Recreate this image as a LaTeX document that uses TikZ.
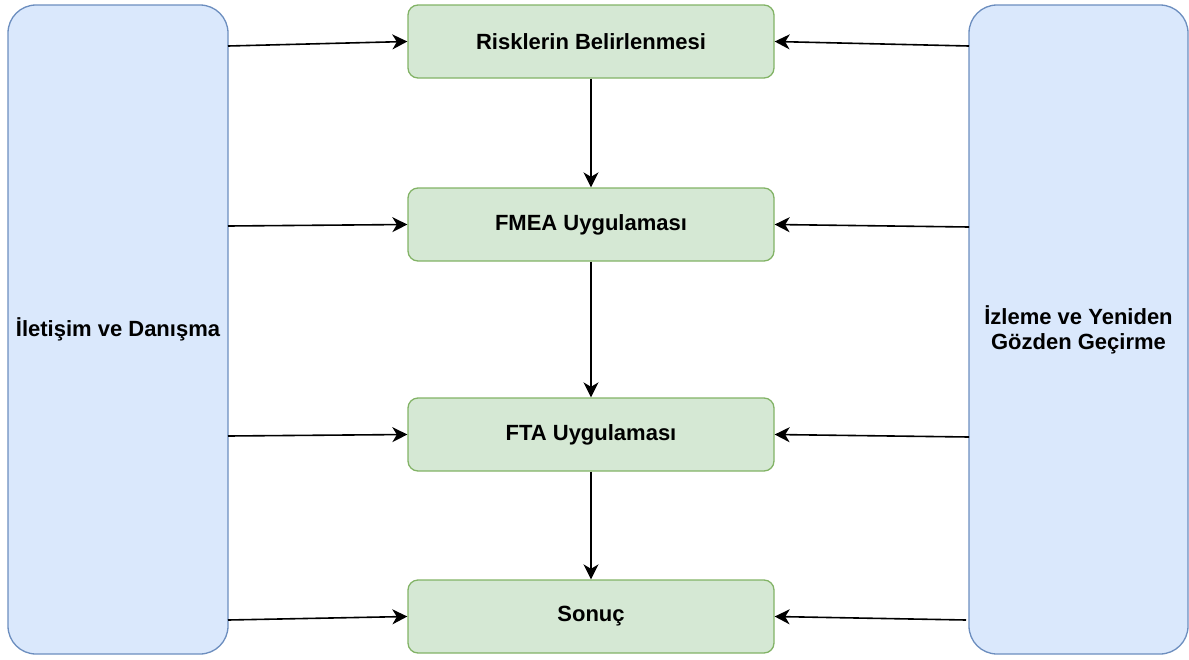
\documentclass[tikz,border=0pt]{standalone}
\usepackage{fontspec}
\setmainfont{Liberation Sans}
\usetikzlibrary{arrows.meta}
\definecolor{bluefill}{HTML}{DAE8FC}
\definecolor{blueline}{HTML}{6C8EBF}
\definecolor{greenfill}{HTML}{D5E8D4}
\definecolor{greenline}{HTML}{82B366}
\tikzset{
  sidebox/.style={draw=blueline, fill=bluefill, line width=1.3pt, rounded corners=28pt,
    minimum width=220pt, minimum height=649pt, inner sep=0pt, align=center,
    font=\fontsize{22}{25}\selectfont\bfseries},
  stepbox/.style={draw=greenline, fill=greenfill, line width=1.3pt, rounded corners=10pt,
    minimum width=366pt, minimum height=73pt, inner sep=0pt, align=center,
    font=\fontsize{22}{25}\selectfont\bfseries},
  arr/.style={line width=1.6pt, -{Stealth[length=15pt, width=15pt, inset=4.5pt]}}
}
\begin{document}
\begin{tikzpicture}[x=1pt, y=-1pt]
\useasboundingbox (0,0) rectangle (1189,659);
\node[sidebox] (L) at (118,329.5) {İletişim ve Danışma};
\node[sidebox, minimum width=219pt] (R) at (1078.5,329.5) {İzleme ve Yeniden\\Gözden Geçirme};
\node[stepbox] (g1) at (591,41.5) {Risklerin Belirlenmesi};
\node[stepbox] (g2) at (591,224.5) {FMEA Uygulaması};
\node[stepbox] (g3) at (591,434.5) {FTA Uygulaması};
\node[stepbox] (g4) at (591,616.5) {Sonuç};
\coordinate (l1) at (228,46);
\coordinate (l2) at (228,226);
\coordinate (l3) at (228,436);
\coordinate (l4) at (228,620);
\coordinate (r1) at (969,46);
\coordinate (r2) at (969,227);
\coordinate (r3) at (969,437);
\coordinate (r4) at (966,620);
\draw[arr] (l1) -- (g1.west);
\draw[arr] (l2) -- (g2.west);
\draw[arr] (l3) -- (g3.west);
\draw[arr] (l4) -- (g4.west);
\draw[arr] (r1) -- (g1.east);
\draw[arr] (r2) -- (g2.east);
\draw[arr] (r3) -- (g3.east);
\draw[arr] (r4) -- (g4.east);
\draw[arr] (g1.south) -- (g2.north);
\draw[arr] (g2.south) -- (g3.north);
\draw[arr] (g3.south) -- (g4.north);
\end{tikzpicture}
\end{document}
